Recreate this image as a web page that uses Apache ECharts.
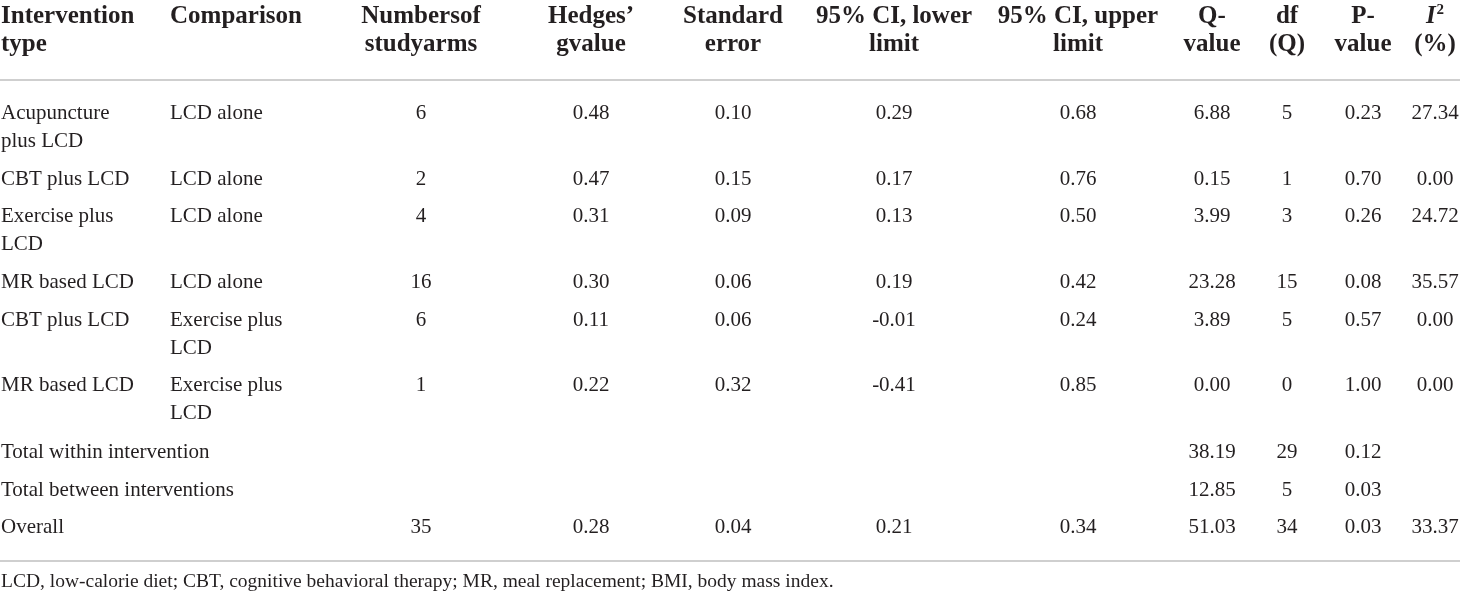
<!DOCTYPE html>
<html>
<head>
<meta charset="utf-8">
<script src="https://cdn.jsdelivr.net/npm/echarts@6/dist/echarts.min.js"></script>
<style>
  html, body { margin: 0; padding: 0; background: #fff; }
  #table { width: 1460px; height: 594px; }
</style>
</head>
<body>
<div id="table"></div>
<script>
// column headers
var headers = ['Intervention\ntype', 'Comparison', 'Numbersof\nstudyarms', 'Hedges\u2019\ngvalue',
               'Standard\nerror', '95% CI, lower\nlimit', '95% CI, upper\nlimit', 'Q-\nvalue',
               'df\n(Q)', 'P-\nvalue', '{it|I}{sup|2}\n(%)'];

// table body
var interventions = ['Acupuncture\nplus LCD', 'CBT plus LCD', 'Exercise plus\nLCD', 'MR based LCD',
                     'CBT plus LCD', 'MR based LCD', 'Total within intervention',
                     'Total between interventions', 'Overall'];
var comparisons = ['LCD alone', 'LCD alone', 'LCD alone', 'LCD alone',
                   'Exercise plus\nLCD', 'Exercise plus\nLCD', '', '', ''];
var studyArms = [6, 2, 4, 16, 6, 1, null, null, 35];
var hedgesG   = [0.48, 0.47, 0.31, 0.30, 0.11, 0.22, null, null, 0.28];
var stdError  = [0.10, 0.15, 0.09, 0.06, 0.06, 0.32, null, null, 0.04];
var ciLower   = [0.29, 0.17, 0.13, 0.19, -0.01, -0.41, null, null, 0.21];
var ciUpper   = [0.68, 0.76, 0.50, 0.42, 0.24, 0.85, null, null, 0.34];
var qValue    = [6.88, 0.15, 3.99, 23.28, 3.89, 0.00, 38.19, 12.85, 51.03];
var dfQ       = [5, 1, 3, 15, 5, 0, 29, 5, 34];
var pValue    = [0.23, 0.70, 0.26, 0.08, 0.57, 1.00, 0.12, 0.03, 0.03];
var iSquared  = [27.34, 0.00, 24.72, 35.57, 0.00, 0.00, null, null, 33.37];

var footnote = 'LCD, low-calorie diet; CBT, cognitive behavioral therapy; MR, meal replacement; BMI, body mass index.';

// layout (pixel space of the hidden axes)
var colX     = [1, 170, 421, 591, 733, 894, 1078, 1212, 1287, 1363, 1435];
var colAlign = ['left', 'left', 'center', 'center', 'center', 'center', 'center', 'center', 'center', 'center', 'center'];
var headerTop = 3;
var rowTop = [99, 165, 202, 268, 306, 371, 438, 476, 513];
var ruleY = [80, 561];
var footY = 582;

var textColor = '#231f20';
var serif = '"Liberation Serif", "Times New Roman", serif';

function fmt(v, digits) {
    if (v === null || v === undefined || v === '') return '';
    if (typeof v === 'string') return v;
    return digits ? v.toFixed(digits) : String(v);
}

var columns = [interventions, comparisons, studyArms, hedgesG, stdError, ciLower, ciUpper, qValue, dfQ, pValue, iSquared];
var digits  = [0, 0, 0, 2, 2, 2, 2, 2, 0, 2, 2];

var cells = [];
for (var c = 0; c < headers.length; c++) {
    cells.push({ value: [c, -1], text: headers[c], head: true });
}
for (var r = 0; r < interventions.length; r++) {
    for (var c2 = 0; c2 < columns.length; c2++) {
        var t = fmt(columns[c2][r], digits[c2]);
        if (t !== '') cells.push({ value: [c2, r], text: t, head: false });
    }
}

var myChart = echarts.init(document.getElementById('table'));
var option = {
    animation: false,
    grid: { left: 0, right: 0, top: 0, bottom: 0 },
    xAxis: { type: 'value', min: 0, max: 1460, show: false },
    yAxis: { type: 'value', min: 0, max: 594, inverse: true, show: false },
    series: [
        {
            type: 'custom',
            silent: true,
            data: ruleY.map(function (y) { return [y]; }),
            renderItem: function (params, api) {
                var a = api.coord([0, api.value(0)]);
                var b = api.coord([1460, api.value(0)]);
                return {
                    type: 'line',
                    shape: { x1: a[0], y1: a[1], x2: b[0], y2: b[1] },
                    style: { stroke: '#cfcfcf', lineWidth: 2 }
                };
            }
        },
        {
            type: 'custom',
            silent: true,
            data: cells,
            renderItem: function (params, api) {
                var cell = cells[params.dataIndex];
                var col = cell.value[0], row = cell.value[1];
                var p = api.coord([colX[col], row < 0 ? headerTop : rowTop[row]]);
                return {
                    type: 'text',
                    x: p[0],
                    y: p[1],
                    style: {
                        text: cell.text,
                        fill: textColor,
                        fontFamily: serif,
                        fontSize: cell.head ? 25 : 21,
                        fontWeight: cell.head ? 'bold' : 'normal',
                        lineHeight: 28,
                        align: colAlign[col],
                        verticalAlign: 'top',
                        rich: {
                            it: { fontStyle: 'italic', fontWeight: 'bold', fontSize: 25, fontFamily: serif, lineHeight: 28, fill: textColor },
                            sup: { fontWeight: 'bold', fontSize: 15, fontFamily: serif, lineHeight: 28, verticalAlign: 'top', padding: [0, 0, 0, 1], fill: textColor }
                        }
                    }
                };
            }
        },
        {
            type: 'custom',
            silent: true,
            data: [[0, footY]],
            renderItem: function (params, api) {
                var p = api.coord([api.value(0), api.value(1)]);
                return {
                    type: 'text',
                    x: p[0] + 1,
                    y: p[1],
                    style: {
                        text: footnote,
                        fill: textColor,
                        fontFamily: serif,
                        fontSize: 19.5,
                        align: 'left',
                        verticalAlign: 'middle'
                    }
                };
            }
        }
    ]
};
myChart.setOption(option);
</script>
</body>
</html>
